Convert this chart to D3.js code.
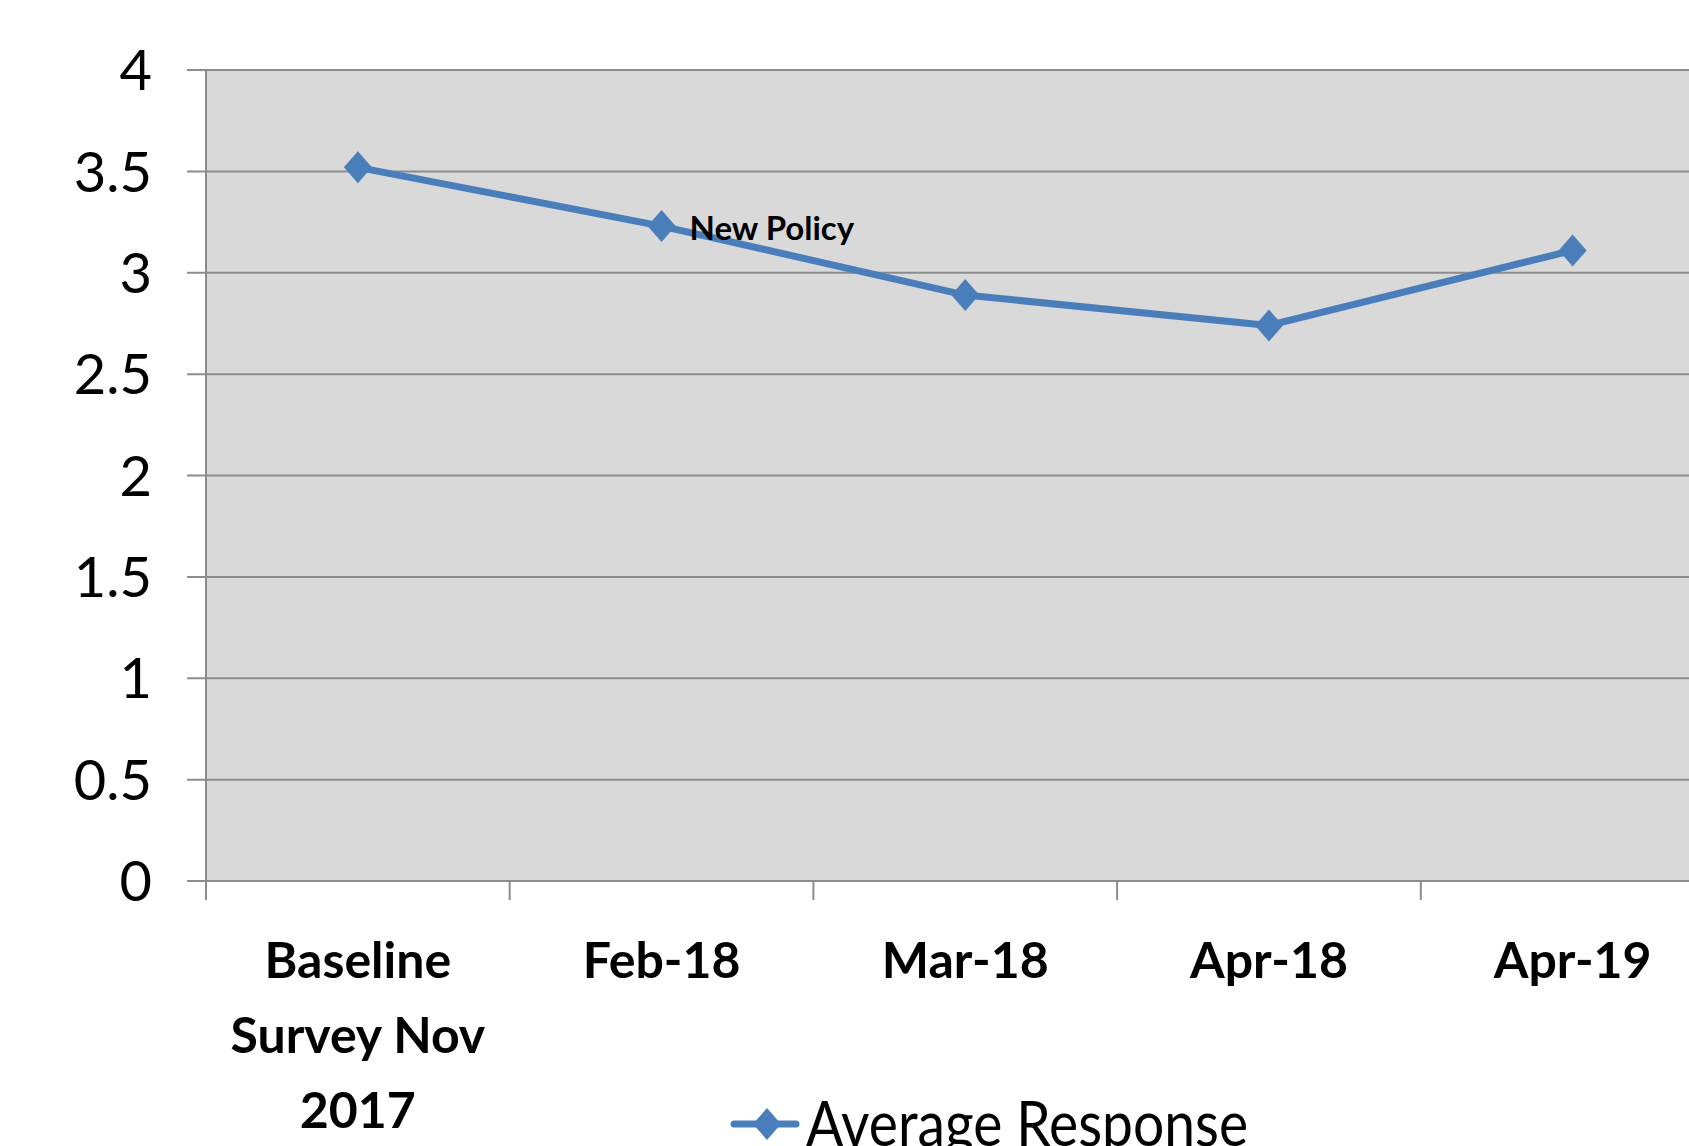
<!DOCTYPE html>
<html>
<head>
<meta charset="utf-8">
<script src="https://cdn.jsdelivr.net/npm/d3@7"></script>
<style>
  html, body { margin: 0; padding: 0; background: #ffffff; overflow: hidden; }
  svg { display: block; }
  text { font-family: Lato, "Open Sans", sans-serif; fill: #000; }
</style>
</head>
<body>
<svg id="chart" width="1689" height="1146"></svg>
<script>
// Survey results: average response per wave
const categories = [["Baseline", "Survey Nov", "2017"], ["Feb-18"], ["Mar-18"], ["Apr-18"], ["Apr-19"]];
const averageResponse = [3.52, 3.23, 2.89, 2.74, 3.11];
const yTicks = [0, 0.5, 1, 1.5, 2, 2.5, 3, 3.5, 4];
const annotation = { index: 1, text: "New Policy" };
const seriesName = "Average Response";

const blue = "#4a7ebb";
const gridGrey = "#8c8c8c";

const svg = d3.select("#chart");
const plot = { left: 206, top: 70, bottom: 881, band: 303.7 };
plot.right = plot.left + plot.band * categories.length;

const x = d3.scaleBand()
  .domain(d3.range(categories.length))
  .range([plot.left, plot.right])
  .paddingInner(0).paddingOuter(0);

const y = d3.scaleLinear().domain([0, 4]).range([plot.bottom, plot.top]);

// plot area
svg.append("rect")
  .attr("x", plot.left).attr("y", plot.top)
  .attr("width", plot.right - plot.left).attr("height", plot.bottom - plot.top)
  .attr("fill", "#d9d9d9");

// horizontal gridlines with small outward ticks
svg.append("g").selectAll("line").data(yTicks).join("line")
  .attr("x1", plot.left - 19).attr("x2", plot.right)
  .attr("y1", d => y(d)).attr("y2", d => y(d))
  .attr("stroke", gridGrey).attr("stroke-width", 2);

// vertical axis line
svg.append("line")
  .attr("x1", plot.left).attr("x2", plot.left)
  .attr("y1", plot.top).attr("y2", plot.bottom + 19)
  .attr("stroke", gridGrey).attr("stroke-width", 2);

// category boundary ticks below the axis
svg.append("g").selectAll("line").data(d3.range(1, categories.length)).join("line")
  .attr("x1", i => x(i)).attr("x2", i => x(i))
  .attr("y1", plot.bottom).attr("y2", plot.bottom + 19)
  .attr("stroke", gridGrey).attr("stroke-width", 2);

// y tick labels
svg.append("g").selectAll("text").data(yTicks).join("text")
  .attr("x", 152).attr("y", d => y(d))
  .attr("dy", "0.36em")
  .attr("text-anchor", "end")
  .attr("font-size", 56)
  .text(d => d);

// x category labels
const xl = svg.append("g").selectAll("text").data(categories).join("text")
  .attr("text-anchor", "middle")
  .attr("font-size", 50)
  .attr("font-weight", "bold");
xl.each(function(lines, i) {
  const t = d3.select(this);
  lines.forEach((ln, k) => {
    t.append("tspan")
      .attr("x", x(i) + x.bandwidth() / 2)
      .attr("y", 978 + k * 75)
      .text(ln);
  });
});

// series line
const cx = i => x(i) + x.bandwidth() / 2;
svg.append("path")
  .datum(averageResponse)
  .attr("fill", "none")
  .attr("stroke", blue)
  .attr("stroke-width", 7)
  .attr("stroke-linejoin", "round")
  .attr("d", d3.line().x((d, i) => cx(i)).y(d => y(d)));

// diamond markers
const diamond = "M0,-16 L14,0 L0,16 L-14,0 Z";
svg.append("g").selectAll("path").data(averageResponse).join("path")
  .attr("transform", (d, i) => `translate(${cx(i)},${y(d)})`)
  .attr("d", diamond)
  .attr("fill", blue);

// annotation label
svg.append("text")
  .attr("x", cx(annotation.index) + 28)
  .attr("y", y(averageResponse[annotation.index]) + 14)
  .attr("font-size", 33)
  .attr("font-weight", "bold")
  .text(annotation.text);

// legend
const lg = svg.append("g").attr("transform", "translate(734,1124)");
lg.append("line").attr("x1", 0).attr("x2", 62).attr("y1", 0).attr("y2", 0)
  .attr("stroke", blue).attr("stroke-width", 7).attr("stroke-linecap", "round");
lg.append("path").attr("transform", "translate(33,0)").attr("d", diamond).attr("fill", blue);
lg.append("text").attr("x", 72).attr("y", 22)
  .attr("font-size", 62)
  .attr("textLength", 442)
  .attr("lengthAdjust", "spacingAndGlyphs")
  .text(seriesName);
</script>
</body>
</html>
